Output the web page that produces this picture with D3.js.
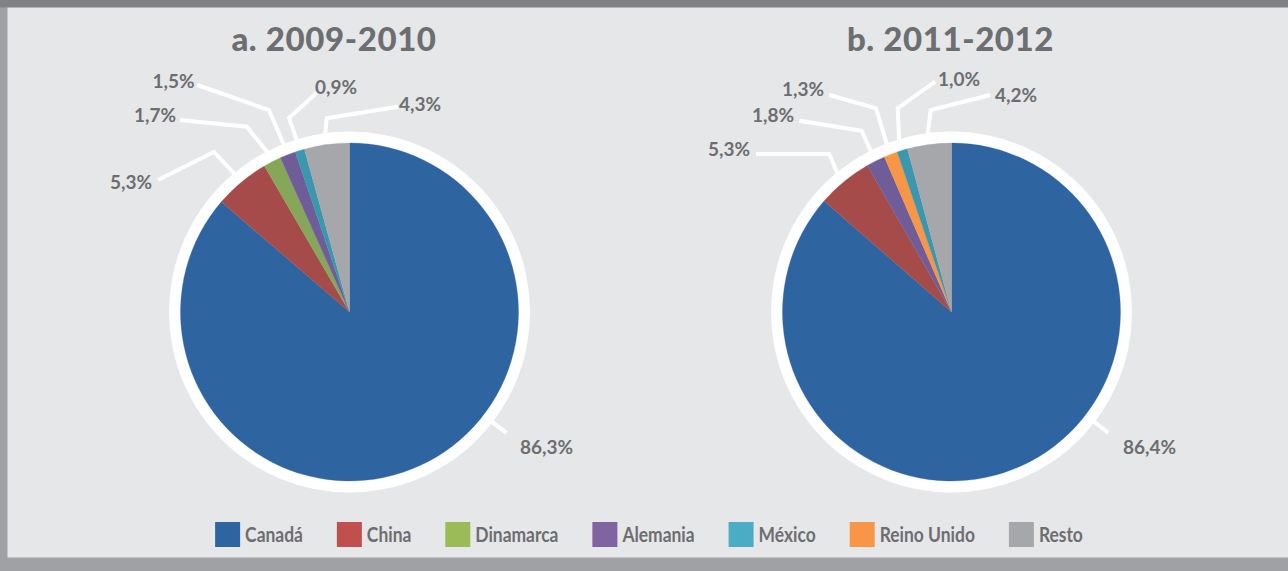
<!DOCTYPE html>
<html>
<head>
<meta charset="utf-8">
<script src="https://cdn.jsdelivr.net/npm/d3@7"></script>
<style>
  html, body { margin: 0; padding: 0; background: #e6e7e8; }
  svg { display: block; }
  text { font-family: Lato, "Open Sans", sans-serif; fill: #6d6e71; }
</style>
</head>
<body>
<script>
var W = 1288, H = 571;

// categories and their colours (legend order)
var categories = ["Canadá", "China", "Dinamarca", "Alemania", "México", "Reino Unido", "Resto"];
var legendColors = ["#2e64a0", "#c0504d", "#9bbb59", "#8064a2", "#4bacc6", "#f79646", "#a6a7aa"];
var sliceColors  = ["#2e64a0", "#a54c4b", "#86a65a", "#6f5d99", "#3a97ad", "#f79646", "#a6a7aa"];

// 2009-2010 (slice order, clockwise from 12 o'clock)
var catsA   = ["Canadá", "China", "Dinamarca", "Alemania", "México", "Resto"];
var valuesA = [86.3, 5.3, 1.7, 1.5, 0.9, 4.3];
var labelsA = ["86,3%", "5,3%", "1,7%", "1,5%", "0,9%", "4,3%"];

// 2011-2012
var catsB   = ["Canadá", "China", "Alemania", "Reino Unido", "México", "Resto"];
var valuesB = [86.4, 5.3, 1.8, 1.3, 1.0, 4.2];
var labelsB = ["86,4%", "5,3%", "1,8%", "1,3%", "1,0%", "4,2%"];

var titles = ["a. 2009-2010", "b. 2011-2012"];

// label placement relative to pie centre: text point, anchor, leader bend
var layoutA = [
  {tx: 170.5, ty: 142, anchor: "start", angle: 127.6},
  {tx: -197.5, ty: -123, anchor: "end", p0: [-191.5, -132], p1: [-135.5, -160]},
  {tx: -173.5, ty: -190.5, anchor: "end", p0: [-169.5, -192], p1: [-102.8, -185.3]},
  {tx: -155, ty: -224.5, anchor: "end", p0: [-152.5, -227], p1: [-80.5, -202]},
  {tx: -34.5, ty: -218, anchor: "start", p0: [-32.8, -219.3], p1: [-60.5, -194]},
  {tx: 49.5, ty: -201.5, anchor: "start", p0: [48.5, -205.3], p1: [-22.8, -193.7]}
];
var layoutB = [
  {tx: 171.5, ty: 142, anchor: "start", angle: 127.6},
  {tx: -201.5, ty: -156.5, anchor: "end", p0: [-195.5, -158], p1: [-122.2, -158]},
  {tx: -157.5, ty: -190.5, anchor: "end", p0: [-152.2, -191.3], p1: [-89.8, -181.3]},
  {tx: -127.5, ty: -216.5, anchor: "end", p0: [-122.2, -217], p1: [-75.5, -203.7]},
  {tx: -13.5, ty: -226, anchor: "start", p0: [-16.5, -230.3], p1: [-53.8, -203.7]},
  {tx: 43.5, ty: -210.5, anchor: "start", p0: [38.5, -217], p1: [-20.8, -202]}
];

var svg = d3.select("body").append("svg")
  .attr("width", W).attr("height", H);

// frame
svg.append("rect").attr("x", 0).attr("y", 0).attr("width", W).attr("height", H).attr("fill", "#e6e7e8");
svg.append("rect").attr("x", 0).attr("y", 0).attr("width", 7.5).attr("height", H).attr("fill", "#a0a1a4");
svg.append("rect").attr("x", 0).attr("y", 557.5).attr("width", W).attr("height", H - 557.5).attr("fill", "#a0a1a4");
svg.append("rect").attr("x", 0).attr("y", 0).attr("width", W).attr("height", 7.5).attr("fill", "#808184");

var color = d3.scaleOrdinal().domain(categories).range(sliceColors);
var legendColor = d3.scaleOrdinal().domain(categories).range(legendColors);

var R = 169, RING = 180.5;
var pie = d3.pie().sort(null).value(function(d) { return d.value; });
var arc = d3.arc().innerRadius(0).outerRadius(R);

function drawPie(cx, cy, titleX, title, cats, values, labels, layout) {
  var rows = cats.map(function(c, i) { return {cat: c, value: values[i], label: labels[i], lay: layout[i]}; });
  var g = svg.append("g").attr("transform", "translate(" + cx + "," + cy + ")");

  svg.append("text")
    .attr("x", titleX).attr("y", 51)
    .attr("text-anchor", "middle")
    .style("font-size", "33px").style("font-weight", 900)
    .style("letter-spacing", "0.6px")
    .text(title);

  g.append("circle").attr("r", RING).attr("fill", "#ffffff");

  var arcs = pie(rows);
  g.selectAll("path.slice")
    .data(arcs).enter().append("path")
    .attr("class", "slice")
    .attr("d", arc)
    .attr("fill", function(d) { return color(d.data.cat); })
    .attr("stroke", function(d) { return color(d.data.cat); })
    .attr("stroke-width", 0.3);

  // leader lines
  arcs.forEach(function(d) {
    var L = d.data.lay;
    var pts;
    if (L.angle !== undefined) {
      var a = L.angle * Math.PI / 180;
      pts = [[Math.sin(a) * 176, -Math.cos(a) * 176], [Math.sin(a) * 198, -Math.cos(a) * 198]];
    } else {
      var mid = (d.startAngle + d.endAngle) / 2;
      var c = [Math.sin(mid) * 180, -Math.cos(mid) * 180];
      pts = [L.p0, L.p1, c];
    }
    g.append("path")
      .attr("d", d3.line()(pts))
      .attr("fill", "none")
      .attr("stroke", "#ffffff")
      .attr("stroke-width", 4)
      .attr("stroke-linejoin", "miter");

    g.append("text")
      .attr("x", L.tx).attr("y", L.ty)
      .attr("text-anchor", L.anchor)
      .style("font-size", "19px").style("font-weight", 700)
      .text(d.data.label);
  });
}

drawPie(349.5, 312, 334, titles[0], catsA, valuesA, labelsA, layoutA);
drawPie(951.5, 312, 950.5, titles[1], catsB, valuesB, labelsB, layoutB);

// legend (condensed text: horizontally squeezed)
var SQ = 0.83;
var legend = svg.append("g");
var x = 0;
categories.forEach(function(c) {
  var item = legend.append("g").attr("transform", "translate(" + x + ",0)");
  item.append("rect").attr("x", 0).attr("y", 522).attr("width", 25).attr("height", 25)
    .attr("fill", legendColor(c));
  var t = item.append("text")
    .attr("transform", "translate(30,542) scale(" + SQ + ",1)")
    .style("font-size", "21px").style("font-weight", 700)
    .text(c);
  x += 30 + t.node().getComputedTextLength() * SQ + 34;
});
var totalW = x - 34;
legend.attr("transform", "translate(" + (649 - totalW / 2) + ",0)");
</script>
</body>
</html>
